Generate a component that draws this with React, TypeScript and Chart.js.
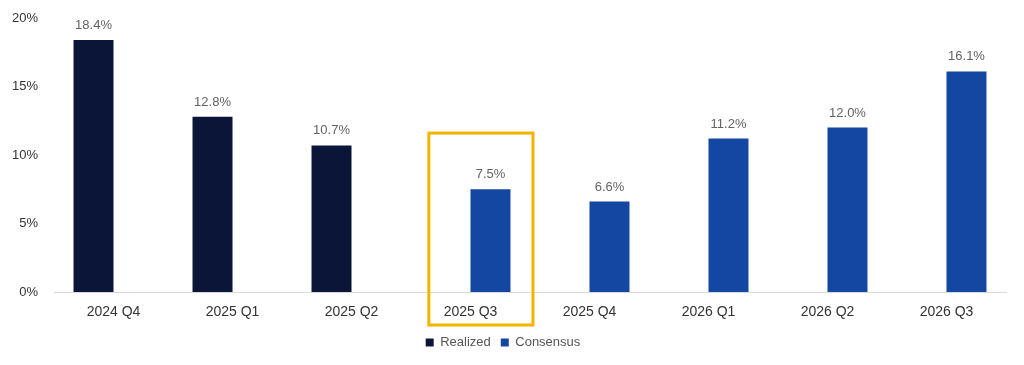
import React, { useEffect, useRef } from "react";
import { Chart, registerables } from "chart.js";

Chart.register(...registerables);

const categories = ["2024 Q4", "2025 Q1", "2025 Q2", "2025 Q3", "2025 Q4", "2026 Q1", "2026 Q2", "2026 Q3"];
const realized = [18.4, 12.8, 10.7, null, null, null, null, null];
const consensus = [null, null, null, 7.5, 6.6, 11.2, 12.0, 16.1];
const yTicks = [0, 5, 10, 15, 20];
const highlightIndex = 3;

const FONT = "'Liberation Sans', Arial, Helvetica, sans-serif";

const valueLabels = {
  id: "valueLabels",
  afterDatasetsDraw(chart: any) {
    const ctx = chart.ctx;
    ctx.save();
    ctx.font = `13px ${FONT}`;
    ctx.fillStyle = "#636363";
    ctx.textAlign = "center";
    ctx.textBaseline = "alphabetic";
    chart.data.datasets.forEach((ds: any, di: number) => {
      const meta = chart.getDatasetMeta(di);
      meta.data.forEach((bar: any, i: number) => {
        const v = ds.data[i];
        if (v === null || v === undefined) return;
        ctx.fillText(v.toFixed(1) + "%", bar.x, bar.y - 11);
      });
    });
    ctx.restore();
  },
};

const highlightBox = {
  id: "highlightBox",
  afterDraw(chart: any) {
    const xs = chart.scales.x;
    const ys = chart.scales.y;
    const ctx = chart.ctx;
    const cw = xs.width / categories.length;
    const c = xs.getPixelForValue(highlightIndex);
    const left = c - cw * 0.35;
    const right = c + cw * 0.525;
    const top = ys.getPixelForValue(11.6);
    const bottom = ys.bottom + 33;
    ctx.save();
    ctx.strokeStyle = "#F2B400";
    ctx.lineWidth = 3;
    ctx.strokeRect(left, top, right - left, bottom - top);
    ctx.restore();
  },
};

export default function App() {
  const ref = useRef<HTMLCanvasElement | null>(null);
  useEffect(() => {
    document.body.style.margin = "0";
    if (!ref.current) return;
    const chart = new Chart(ref.current, {
      type: "bar",
      data: {
        labels: categories,
        datasets: [
          {
            label: "Realized",
            data: realized as any,
            backgroundColor: "#0B1538",
            borderColor: "#0B1538",
            categoryPercentage: 0.672,
            barPercentage: 1,
          },
          {
            label: "Consensus",
            data: consensus as any,
            backgroundColor: "#1347A1",
            borderColor: "#1347A1",
            categoryPercentage: 0.672,
            barPercentage: 1,
          },
        ],
      },
      options: {
        animation: false,
        responsive: false,
        maintainAspectRatio: false,
        layout: { padding: { top: 18, right: 18, left: 0, bottom: 6 } },
        scales: {
          x: {
            afterFit: (s: any) => { s.height = 34; },
            grid: { display: false, drawTicks: false },
            border: { display: true, color: "#d9d9d9", width: 1 },
            ticks: { color: "#333333", font: { family: FONT, size: 14 }, padding: 12 },
          },
          y: {
            min: 0,
            max: 20,
            afterFit: (s: any) => { s.width = 54; },
            afterBuildTicks: (s: any) => { s.ticks = yTicks.map((v) => ({ value: v })); },
            grid: { display: false, drawTicks: true, tickLength: 16, tickColor: "rgba(0,0,0,0)" },
            border: { display: false },
            ticks: {
              color: "#333333",
              font: { family: FONT, size: 13 },
              padding: 0,
              callback: (v: any) => v + "%",
            },
          },
        },
        plugins: {
          legend: {
            position: "bottom",
            labels: {
              boxWidth: 8,
              boxHeight: 8,
              color: "#555555",
              font: { family: FONT, size: 13 },
              padding: 10,
            },
          },
          tooltip: { enabled: false },
        },
      },
      plugins: [valueLabels, highlightBox],
    });
    return () => chart.destroy();
  }, []);
  return (
    <div style={{ width: 1024, height: 365, background: "#fff" }}>
      <canvas ref={ref} width={1024} height={365} style={{ display: "block" }} />
    </div>
  );
}
